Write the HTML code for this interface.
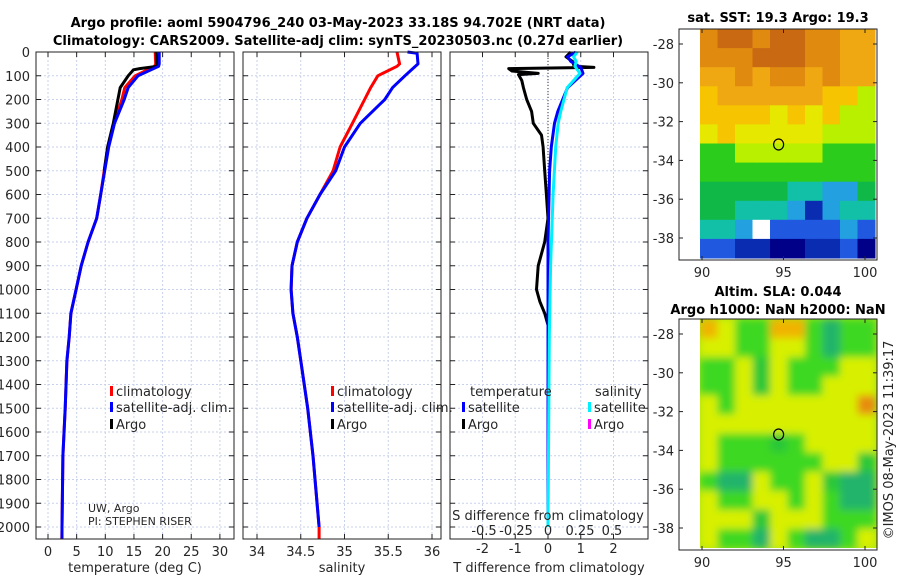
<!DOCTYPE html>
<html><head><meta charset="utf-8">
<style>
body{margin:0;background:#fff;}
svg{display:block;font-family:"DejaVu Sans","Liberation Sans",sans-serif;}
.t{font-size:13px;fill:#262626;}
.b{font-weight:bold;font-size:13px;fill:#000;}
</style></head><body>
<svg id="fig" width="900" height="580" viewBox="0 0 900 580">
<defs>
<filter id="soft" x="-0.1" y="-0.1" width="1.2" height="1.2"><feGaussianBlur stdDeviation="4"/></filter>
<clipPath id="slaclip"><rect x="700" y="319" width="177" height="229"/></clipPath>
</defs>
<text class="b" x="338" y="27" text-anchor="middle">Argo profile: aoml 5904796_240 03-May-2023 33.18S 94.702E (NRT data)</text>
<text class="b" x="338" y="45" text-anchor="middle">Climatology: CARS2009. Satellite-adj clim: synTS_20230503.nc (0.27d earlier)</text>
<g id="plots"></g>
</svg>
<script>
// ---- profile data ----
const depthTicks=[0,100,200,300,400,500,600,700,800,900,1000,1100,1200,1300,1400,1500,1600,1700,1800,1900,2000];
const tempTicks=[0,5,10,15,20,25,30];
const salTicks=[34,34.5,35,35.5,36];
const dtTicks=[-2,-1,0,1,2];
const dsTickLabels=["-0.5","-0.25","0","0.25","0.5"];
const dsTicks=[-0.5,-0.25,0,0.25,0.5];
const climDepth=[0,50,60,100,150,200,300,400,500,600,700,800,900,1000,1100,1200,1300,1500,1700,2000,2050];
const climTemp=[18.7,18.8,18.6,15.2,13.4,12.9,11.5,10.5,9.8,9.2,8.5,7.0,5.8,4.9,4.0,3.7,3.3,3.0,2.6,2.45,2.4];
const satTemp=[19.4,19.4,19.3,15.7,14.0,13.3,11.6,10.6,9.9,9.2,8.5,7.0,5.8,4.9,4.0,3.7,3.3,3.0,2.6,2.45,2.45];
const argoDepth=[0,60,70,75,100,150,200,300,400,500];
const argoTemp=[18.9,19.0,16.0,14.9,14.0,12.6,12.2,11.4,10.4,9.8];
const climSal=[35.6,35.63,35.6,35.38,35.3,35.23,35.09,34.95,34.87,34.72,34.57,34.46,34.4,34.39,34.41,34.46,34.5,34.58,34.64,34.71,34.71];
const satSalDepth=[0,5,50,100,150,200,300,400,500,600,700,800,900,1000,1100,1200,1300,1500,1700,2000];
const satSal=[35.72,35.83,35.84,35.69,35.55,35.46,35.18,35.0,34.9,34.72,34.57,34.46,34.4,34.39,34.41,34.46,34.5,34.58,34.64,34.71];
const argoDtDepth=[0,20,40,60,65,70,80,90,95,120,150,200,250,300,350,400,500,600,700,800,900,1000,1050,1100,1150,1200,1600,2000];
const argoDt=[0.7,0.55,0.75,0.8,1.4,-1.2,-1.1,-0.3,-0.9,-0.8,-0.75,-0.65,-0.5,-0.45,-0.2,-0.15,-0.1,-0.05,0,-0.1,-0.3,-0.35,-0.25,-0.1,0,0,0,0];
const satDtDepth=[0,20,40,65,90,150,250,300,400,500,800,1000,2000];
const satDt=[0.85,0.6,0.7,1.0,1.07,0.6,0.3,0.2,0.1,0.05,0,0,0];
const satDsDepth=[0,20,40,60,90,150,250,300,400,600,900,1200,2000];
const satDs=[0.23,0.2,0.22,0.21,0.25,0.15,0.1,0.08,0.06,0.04,0.02,0.01,0];
// ---- map data ----
const mapLonTicks=[90,95,100];
const mapLatTicks=[-28,-30,-32,-34,-36,-38];
const sstRows=["baabaabbcc","bbbaaabbcc","ccbcbbcbcc","dccccccddf","ddddededff","edeeeeefff","ggfffffggg","gggggggggg","hhhhhiijjh","hhiiijljii","iijwkkkkjk","kkllmmllkm"];
const slaRows=["oYggoogtgg","YYggYYgtgg","ggYGYgggYY","ggYGYggYYY","YgYYYYYYYO","YYYYYYYYYY","YgggGgYYYY","YggggggYYG","gttYggYGtt","YggYYgYgtt","YYYGYYYggg","YggtYgttgY"];
const sstPal={a:"#c96a12",b:"#e08a10",c:"#f0a812",d:"#f6c400",e:"#e6e800",f:"#b8f000",g:"#2ccc1c",h:"#10b848",i:"#12c0a8",j:"#22a0e0",k:"#2058e0",l:"#0a2cb0",m:"#000088",w:"#ffffff"};
const slaPal={o:"#f0b400",O:"#e88a10",Y:"#d8f000",g:"#3cd820",G:"#2cc838",t:"#20b46a"};

const NS="http://www.w3.org/2000/svg";
const root=document.getElementById('plots');
function mk(tag,attrs,parent){const e=document.createElementNS(NS,tag);for(const k in attrs)e.setAttribute(k,attrs[k]);(parent||root).appendChild(e);return e;}
function txt(s,x,y,attrs,parent){const e=mk('text',Object.assign({x:x,y:y,class:'t'},attrs||{}),parent);e.textContent=s;return e;}
const Y0=52,Y1=539;
const yD=d=>Y0+d*0.2375;
const panels=[
 {name:'temperature-panel',x0:36,x1:234,f:v=>48+v*5.73,ticks:tempTicks,labels:tempTicks.map(String),xl:'temperature (deg C)'},
 {name:'salinity-panel',x0:243,x1:441,f:v=>257+(v-34)*87.5,ticks:salTicks,labels:salTicks.map(String),xl:'salinity'},
 {name:'difference-panel',x0:450,x1:648,f:v=>548+v*32.75,ticks:dtTicks,labels:dtTicks.map(String),xl:'T difference from climatology'}
];
const fS=v=>548+v*128;
panels.forEach((p,pi)=>{
 const g=mk('g',{});
 
 
 depthTicks.forEach(d=>{mk('line',{x1:p.x0,x2:p.x1,y1:yD(d),y2:yD(d),stroke:'#c8d2ea','stroke-dasharray':'2,2','stroke-width':1},g);
   mk('line',{x1:p.x0,x2:p.x0+5,y1:yD(d),y2:yD(d),stroke:'#222'},g);mk('line',{x1:p.x1-5,x2:p.x1,y1:yD(d),y2:yD(d),stroke:'#222'},g);});
 p.ticks.forEach((t,i)=>{const x=p.f(t);mk('line',{x1:x,x2:x,y1:Y0,y2:Y1,stroke:'#c8d2ea','stroke-dasharray':'2,2'},g);
   mk('line',{x1:x,x2:x,y1:Y1-5,y2:Y1,stroke:'#222'},g);mk('line',{x1:x,x2:x,y1:Y0,y2:Y0+5,stroke:'#222'},g);
   const tl=txt(p.labels[i],x,pi==2?553:556,{'text-anchor':'middle'},g);
   });
 const xl=txt(p.xl,(p.x0+p.x1)/2,572,{'text-anchor':'middle'},g);
 
 p.g=g;
});
depthTicks.forEach(d=>{const e=txt(String(d),30,yD(d)+5,{'text-anchor':'end'});
 });
function line(depths,vals,f,color,name,w){
 const pts=depths.map((d,i)=>f(vals[i]).toFixed(1)+','+yD(d).toFixed(1)).join(' ');
 const e=mk('polyline',{points:pts,fill:'none',stroke:color,'stroke-width':w||3,'stroke-linejoin':'round'});
 }
const P=panels;
line(climDepth,climTemp,P[0].f,'#ff0000','temp-climatology-line');
line(argoDepth,argoTemp,P[0].f,'#000000','temp-argo-line');
line(climDepth,satTemp,P[0].f,'#0000ff','temp-satellite-line');
line(climDepth,climSal,P[1].f,'#ff0000','sal-climatology-line');
line(satSalDepth,satSal,P[1].f,'#0000ff','sal-satellite-line');
mk('line',{x1:548,x2:548,y1:Y0,y2:400,stroke:'#333','stroke-dasharray':'1,2'});
line(argoDtDepth,argoDt,P[2].f,'#000000','dt-argo-line');
line(satDtDepth,satDt,P[2].f,'#0000ff','dt-satellite-line');
line(satDsDepth,satDs,fS,'#00f0ff','ds-satellite-line');
panels.forEach(p=>mk('rect',{x:p.x0,y:Y0,width:p.x1-p.x0,height:Y1-Y0,fill:'none',stroke:'#222'}));
dsTicks.forEach((t,i)=>{const e=txt(dsTickLabels[i],fS(t),535,{'text-anchor':'middle'});
 });
const sdt=txt('S difference from climatology',548,520,{'text-anchor':'middle'});


function leg(x,y,color,label,name){const g=mk('g',{});
 mk('rect',{x:x,y:y-6,width:3,height:10,fill:color},g);txt(label,x+6,y+4,{},g);}
leg(110,392,'#ff0000','climatology','legend-climatology');
leg(110,408,'#0000ff','satellite-adj. clim.','legend-satellite-adj');
leg(110,425,'#000000','Argo','legend-argo');
leg(331,392,'#ff0000','climatology','legend-climatology-2');
leg(331,408,'#0000ff','satellite-adj. clim.','legend-satellite-adj-2');
leg(331,425,'#000000','Argo','legend-argo-2');
txt('temperature',470,396);txt('salinity',595,396);
leg(462,408,'#0000ff','satellite','legend-t-satellite');
leg(462,425,'#000000','Argo','legend-t-argo');
leg(588,408,'#00f0ff','satellite','legend-s-satellite');
leg(588,425,'#ff00ff','Argo','legend-s-argo');
txt('UW, Argo',88,512,{style:'font-size:11px'});
txt('PI: STEPHEN RISER',88,525,{style:'font-size:11px'});
function drawMap(name,fy0,fy1,rows,pal,lat28y,lat38y,titles,soft){
 const g=mk('g',{});
 const lonX=v=>702+(v-90)*16.3;const latY=v=>lat28y+(-28-v)*(lat38y-lat28y)/10;
 const ix0=700,ix1=875,iy0=fy0,iy1=fy1-2;
 const cw=(ix1-ix0)/10,ch=(iy1-iy0)/12;
 let cg=g;
 if(soft){const cl=mk('g',{'clip-path':'url(#slaclip)'},g);
   mk('rect',{x:ix0,y:iy0,width:ix1-ix0+2,height:iy1-iy0+2,fill:'#a8e418'},cl);
   cg=mk('g',{filter:'url(#soft)'},cl);}
 rows.forEach((r,ri)=>{for(let c=0;c<r.length;c++){
   const cell=mk('rect',{x:(ix0+c*cw).toFixed(1),y:(iy0+ri*ch).toFixed(1),width:(cw+0.5).toFixed(1),height:(ch+0.5).toFixed(1),fill:pal[r[c]]},cg);
   }});
 mk('rect',{x:679,y:fy0,width:198,height:fy1-fy0,fill:'none',stroke:'#222'},g);
 mapLonTicks.forEach(v=>{const x=lonX(v);mk('line',{x1:x,x2:x,y1:fy1-4,y2:fy1,stroke:'#222'},g);mk('line',{x1:x,x2:x,y1:fy0,y2:fy0+4,stroke:'#222'},g);
   txt(String(v),x,fy1+17,{'text-anchor':'middle'},g);});
 mapLatTicks.forEach(v=>{const y=latY(v);mk('line',{x1:877,x2:873,y1:y,y2:y,stroke:'#222'},g);mk('line',{x1:679,x2:683,y1:y,y2:y,stroke:'#222'},g);
   txt(String(v),674,y+5,{'text-anchor':'end'},g);});
 const m=mk('ellipse',{cx:lonX(94.7),cy:latY(-33.18),rx:5,ry:5.5,fill:'none',stroke:'#000','stroke-width':1.2},g);
 
 titles.forEach(t=>{const e=txt(t[0],778,t[1],{class:'b','text-anchor':'middle'},g);});
}
drawMap('sst-map',29,260,sstRows,sstPal,44,238,[['sat. SST: 19.3 Argo: 19.3',22]],false);
drawMap('sla-map',319,550,slaRows,slaPal,334,528,[['Altim. SLA: 0.044',296],['Argo h1000: NaN h2000: NaN',314]],true);
const cp=txt('©IMOS 08-May-2023 11:39:17',0,0,{'text-anchor':'middle',transform:'translate(893,440) rotate(-90)'});

</script>
</body></html>
